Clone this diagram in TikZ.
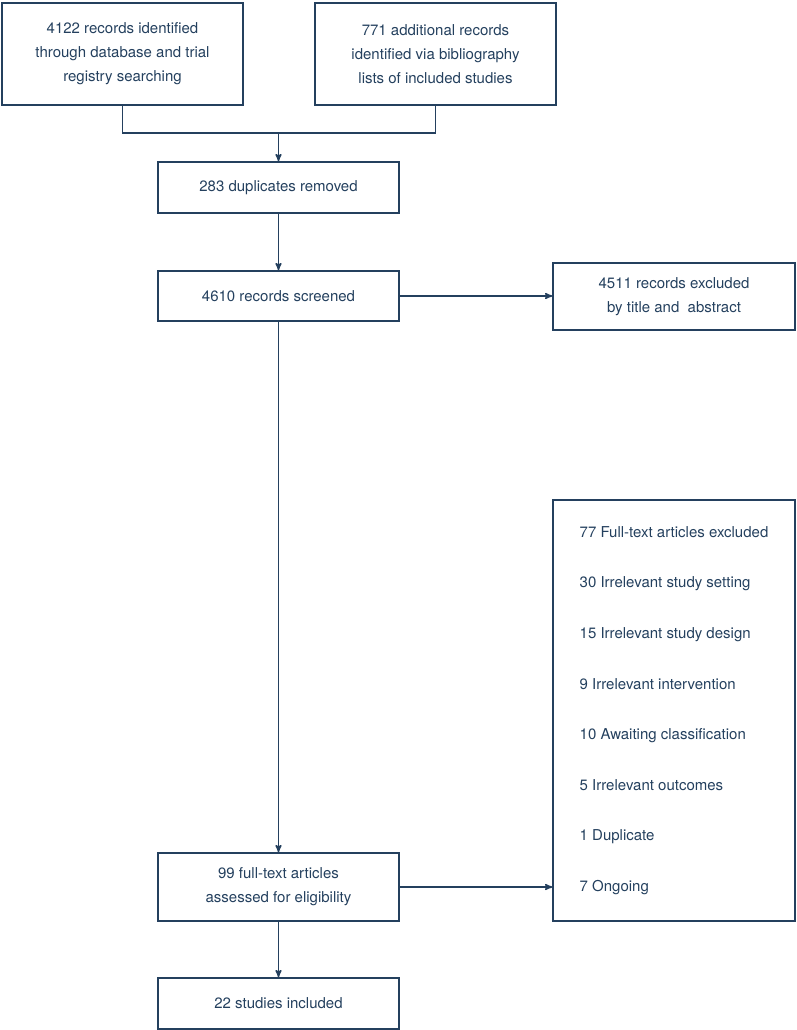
\documentclass[tikz,border=0pt]{standalone}
\usepackage{fontspec}
\setmainfont{TeX Gyre Heros}
\usepackage{xcolor}
\definecolor{flowline}{HTML}{24405E}
\usetikzlibrary{arrows}

\begin{document}
\begin{tikzpicture}[x=1pt,y=-1pt,draw=flowline,line width=1.5pt,
  flowbox/.style={draw,rectangle,minimum width=241pt,align=center,
    text=flowline,font=\fontsize{15}{24}\selectfont,inner sep=0pt},
  flowarrow/.style={->,>=stealth',line width=1.5pt}]
\useasboundingbox (0,0) rectangle (797,1030);

\node[flowbox,minimum height=102pt] (rec) at (122.5,54) {4122 records identified\\through database and trial\\registry searching};
\node[flowbox,minimum height=102pt] (add) at (435.5,54) {771 additional records\\identified via bibliography\\lists of included studies};
\node[flowbox,minimum height=51pt] (dup) at (278.5,187.5) {283 duplicates removed};
\node[flowbox,minimum height=50pt] (scr) at (278.5,296) {4610 records screened};
\node[flowbox,minimum width=242pt,minimum height=67pt] (exc) at (674,296.5) {4511 records excluded\\by title and\ \ abstract};
\node[flowbox,minimum width=242pt,minimum height=421pt,align=left,
  font=\fontsize{15}{50.6}\selectfont] (why) at (674,710.5)
  {77 Full-text articles excluded\\30 Irrelevant study setting\\15 Irrelevant study design\\9 Irrelevant intervention\\10 Awaiting classification\\5 Irrelevant outcomes\\1 Duplicate\\7 Ongoing};
\node[flowbox,minimum height=68pt] (full) at (278.5,887) {99 full-text articles\\assessed for eligibility};
\node[flowbox,minimum height=51pt] (incl) at (278.5,1003.5) {22 studies included};

\coordinate (joint) at (278.5,133);
\draw (rec.south) |- (joint);
\draw (add.south) |- (joint);
\draw[flowarrow] (joint) -- (dup.north);
\draw[flowarrow] (dup.south) -- (scr.north);
\draw[flowarrow] (scr.east) -- (scr.east -| exc.west);
\draw[flowarrow] (scr.south) -- (full.north);
\draw[flowarrow] (full.east) -- (full.east -| why.west);
\draw[flowarrow] (full.south) -- (incl.north);
\end{tikzpicture}
\end{document}
